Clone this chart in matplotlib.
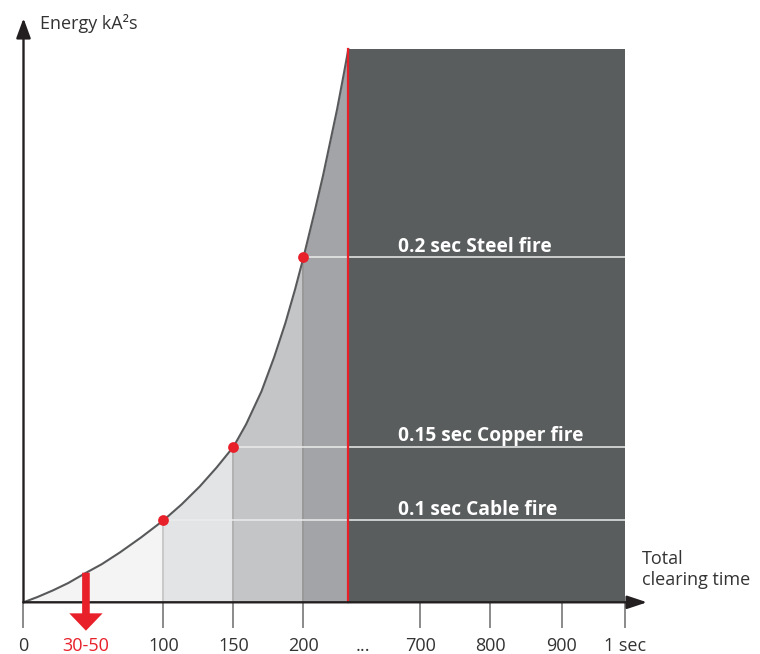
import numpy as np
import matplotlib.pyplot as plt

plt.rcParams['font.family'] = ['Open Sans', 'DejaVu Sans']

# Energy curve (time in ms, energy in arbitrary units)
curve_t = [0, 10, 21, 32, 44, 56, 69, 84, 100, 113, 126, 138, 150, 159, 170, 179, 187,
           194, 200, 208, 214, 219, 224, 229, 232]
curve_e = [0, 5.3, 11.9, 19.3, 29, 38.2, 50, 64.9, 82, 98, 116, 134.9, 155.6, 178, 211,
           245, 279, 313, 345, 391, 427, 460, 493, 530, 553]

# Fire thresholds
fire_t = [100, 150, 200]
fire_e = [82, 155.6, 345]
fire_labels = ["0.1 sec Cable fire", "0.15 sec Copper fire", "0.2 sec Steel fire"]

# Shaded bands under the curve
band_edges = [0, 100, 150, 200, 232]
band_colors = ['#f4f4f4', '#e3e4e5', '#c4c5c7', '#a3a4a7']

limit_t = 232      # red limit line
end_t = 1000       # 1 sec
top_e = 553

tick_times = [0, 100, 150, 200, 700, 800, 900, 1000]
tick_labels = ["0", "100", "150", "200", "700", "800", "900", "1 sec"]
range_t = 44.6     # "30-50" marker
range_label = "30-50"
gap_t = 617        # "..." marker

red = '#e8202a'
dark = '#5a5d5e'
axis_col = '#231f20'
text_col = '#333333'

# broken time axis: fine scale up to the limit, compressed after the gap
knot_t = [-1e4, 0, 232, 596, 700, 800, 900, 1000, 1e5]
knot_p = [-14000, 0, 324.8, 325.5, 396.8, 466.5, 538.5, 601.8, 601.8 + 99000 * 0.683]


def forward(t):
    return np.interp(t, knot_t, knot_p)


def inverse(p):
    return np.interp(p, knot_p, knot_t)


fig = plt.figure(figsize=(7.6, 6.54), dpi=100)
ax = fig.add_axes([0, 0, 1, 1])
ax.set_xscale('function', functions=(forward, inverse))
ax.set_xlim(float(inverse(-23.5)), float(inverse(736.5)))
ax.set_ylim(-51.7, 602.3)
ax.axis('off')

t = np.array(curve_t)
e = np.array(curve_e)

# bands under the curve
for a, b, c in zip(band_edges[:-1], band_edges[1:], band_colors):
    m = (t >= a) & (t <= b)
    ax.fill_between(t[m], 0, e[m], color=c, lw=0, zorder=1)

# dark region after the limit
ax.fill_between([limit_t, end_t], 0, top_e, color=dark, lw=0, zorder=1)

# vertical guides from the dots down to the axis
guide_cols = ['#bcbcbc', '#a4a4a4', '#8c8c8c']
for ft, fe, gc in zip(fire_t, fire_e, guide_cols):
    ax.plot([ft, ft], [0, fe], color=gc, lw=1.1, zorder=2)

# horizontal threshold lines and labels
ax.hlines(fire_e, fire_t, end_t, color='#ececec', lw=1.1, zorder=2)
for fe, lab in zip(fire_e, fire_labels):
    ax.text(667, fe + 5.5, lab, color='white', fontsize=13.8, fontweight='bold',
            va='baseline', ha='left', zorder=6)

# curve
ax.plot(t, e, color='#58595b', lw=1.5, zorder=3, solid_joinstyle='round')

# red limit line
ax.plot([limit_t, limit_t], [0, top_e], color=red, lw=1.6, zorder=3)

# red dots
ax.scatter(fire_t, fire_e, s=60, color=red, lw=0, zorder=5)

# ticks below the axis
ax.vlines(tick_times, -26, 0, color='#6b6b6b', lw=1.1, zorder=2)
for tt, lab in zip(tick_times, tick_labels):
    ax.text(tt, -48.4, lab, ha='center', va='baseline', fontsize=13, color=text_col)
ax.text(range_t, -48.4, range_label, ha='center', va='baseline', fontsize=13, color=red)
ax.text(gap_t, -48.4, "...", ha='center', va='baseline', fontsize=13, color=text_col)

# axes with arrows
ax.annotate('', xy=(1031.8, 0), xytext=(0, 0),
            arrowprops=dict(arrowstyle='-|>,head_length=0.6,head_width=0.2', lw=1.7,
                            color=axis_col, shrinkA=0, shrinkB=0, mutation_scale=20),
            zorder=4)
ax.annotate('', xy=(0, 584), xytext=(0, 0),
            arrowprops=dict(arrowstyle='-|>,head_length=0.6,head_width=0.22', lw=1.7,
                            color=axis_col, shrinkA=0, shrinkB=0, mutation_scale=20),
            zorder=4)

# red arrow for the 30-50 ms range
ax.annotate('', xy=(range_t, -28.4), xytext=(range_t, 29.6),
            arrowprops=dict(arrowstyle='simple,head_width=2.4,head_length=1.25,tail_width=0.55',
                            mutation_scale=10, color=red, shrinkA=0, shrinkB=0, lw=0),
            zorder=7)

ax.text(11.8, 573, "Energy kA²s", fontsize=13, color=text_col, va='baseline')
ax.text(1024.5, 17.3, "Total\nclearing time", fontsize=13, color=text_col, va='baseline',
        linespacing=1.25)

fig.savefig('out.png', dpi=100)
